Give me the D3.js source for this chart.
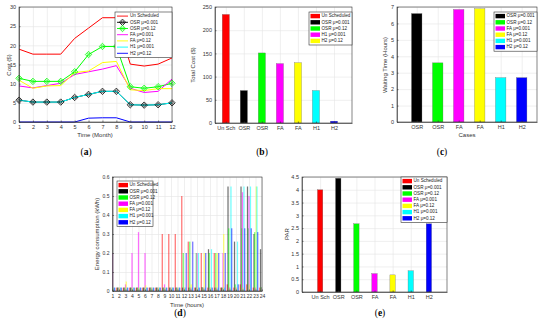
<!DOCTYPE html>
<html>
<head>
<meta charset="utf-8">
<script src="https://cdn.jsdelivr.net/npm/d3@7"></script>
<style>
  body { margin: 0; background: #fff; }
  svg { font-family: "Liberation Sans", Arial, sans-serif; }
</style>
</head>
<body>
<svg id="fig" width="550" height="330"></svg>
<script>
// Datos
// (a) costo mensual
var months = [1, 2, 3, 4, 5, 6, 7, 8, 9, 10, 11, 12];
var costUnsch = [19, 17.7, 17.7, 17.7, 21.8, 24.5, 27.2, 27.2, 15.1, 14.6, 15.1, 16.7];
var costOsr1 = [5.7, 5.2, 5.2, 5.2, 6.4, 7.2, 8.0, 8.0, 4.5, 4.4, 4.5, 5.0];
var costOsr2 = [11.4, 10.6, 10.6, 10.6, 13.1, 17.6, 19.7, 19.7, 9.2, 8.8, 9.2, 10.1];
var costFa1 = [9.4, 8.9, 9.5, 10.1, 12.4, 13.1, 13.8, 14.7, 8.8, 7.7, 8.0, 11.2];
var costFa2 = [10.9, 8.8, 9.4, 9.5, 12.9, 13.3, 15.5, 15.8, 8.4, 8.2, 8.7, 8.7];
var costH1 = [5.7, 5.2, 5.2, 5.2, 6.4, 7.2, 8.0, 8.0, 4.5, 4.4, 4.5, 5.0];
var costH2 = [0, 0, 0, 0, 0, 1.0, 1.1, 1.1, 0, 0, 0, 0];
var costTicks = [0, 5, 10, 15, 20, 25, 30];

var seriesNames = ["Un Scheduled", "OSR \u03bc=0.001", "OSR \u03bc=0.12", "FA \u03bc=0.001",
  "FA \u03bc=0.12", "H1 \u03bc=0.001", "H2 \u03bc=0.12"];

// (b) costo total
var totalCases = ["Un Sch", "OSR", "OSR", "FA", "FA", "H1", "H2"];
var totalCost = [234, 70, 151, 128, 130, 70, 4];
var totalTicks = [0, 50, 100, 150, 200, 250];
var totalNames = ["Un Scheduled", "OSR \u03bc=0.001", "OSR \u03bc=0.12", "H1 \u03bc=0.001", "H2 \u03bc=0.12"];

// (c) tiempo de espera
var waitCases = ["OSR", "OSR", "FA", "FA", "H1", "H2"];
var waitTime = [6.6, 3.6, 6.85, 6.9, 2.7, 2.7];
var waitTicks = [0, 1, 2, 3, 4, 5, 6, 7];

// (d) consumo por hora
var hours = [1, 2, 3, 4, 5, 6, 7, 8, 9, 10, 11, 12, 13, 14, 15, 16, 17, 18, 19, 20, 21, 22, 23, 24];
var energyUnsch = [0.018, 0.018, 0.018, 0.018, 0.018, 0.018, 0.018, 0.018, 0.3, 0.3, 0.3, 0.5,
  0.26, 0.018, 0.2, 0.018, 0.2, 0.018, 0.035, 0.018, 0.035, 0.035, 0.018, 0.018];
var energyOsr1 = [0.018, 0.018, 0.018, 0.018, 0.018, 0.018, 0.018, 0.018, 0.018, 0.018, 0.018, 0.018,
  0.018, 0.018, 0.02, 0.22, 0.018, 0.018, 0.55, 0.26, 0.55, 0.55, 0.3, 0.22];
var energyOsr2 = [0.018, 0.018, 0.018, 0.018, 0.018, 0.018, 0.018, 0.018, 0.018, 0.018, 0.018, 0.2,
  0.26, 0.2, 0.018, 0.2, 0.2, 0.018, 0.33, 0.035, 0.33, 0.33, 0.31, 0.02];
var energyFa1 = [0.2, 0.018, 0.035, 0.2, 0.31, 0.2, 0.018, 0.018, 0.035, 0.018, 0.018, 0.018,
  0.018, 0.2, 0.018, 0.018, 0.018, 0.2, 0.018, 0.018, 0.52, 0.5, 0.018, 0.018];
var energyFa2 = [0.018, 0.018, 0.05, 0.018, 0.018, 0.03, 0.018, 0.018, 0.018, 0.018, 0.018, 0.018,
  0.035, 0.018, 0.2, 0.018, 0.2, 0.3, 0.018, 0.018, 0.018, 0.035, 0.55, 0.018];
var energyH1 = [0.018, 0.018, 0.018, 0.018, 0.018, 0.018, 0.018, 0.018, 0.018, 0.018, 0.018, 0.018,
  0.018, 0.2, 0.018, 0.22, 0.018, 0.018, 0.55, 0.26, 0.55, 0.55, 0.55, 0.018];
var energyH2 = [0.018, 0.018, 0.018, 0.018, 0.018, 0.018, 0.018, 0.018, 0.018, 0.018, 0.018, 0.2,
  0.26, 0.018, 0.2, 0.018, 0.2, 0.2, 0.33, 0.035, 0.33, 0.33, 0.31, 0.018];
var energyTicks = [0, 0.1, 0.2, 0.3, 0.4, 0.5, 0.6];

// (e) PAR
var parCases = ["Un Sch", "OSR", "OSR", "FA", "FA", "H1", "H2"];
var parValues = [4.0, 4.45, 2.67, 0.72, 0.67, 0.83, 2.67];
var parTicks = [0, 0.5, 1, 1.5, 2, 2.5, 3, 3.5, 4, 4.5];

// colores estilo matlab
var colors = ["#ff0000", "#000000", "#00ff00", "#ff00ff", "#ffff00", "#00ffff", "#0000ff"];

var fig = d3.select("#fig");

// Ejes con grid y caja
function makeAxes(o) {
  var g = fig.append("g").attr("transform", `translate(${o.left}, ${o.top})`);
  var w = o.width, h = o.height;
  var x = o.x.range([0, w]);
  var y = o.y.range([h, 0]);
  g.append("g").attr("class", "grid").attr("transform", `translate(0, ${h})`)
    .call(d3.axisBottom(x).tickValues(o.xTicks).tickSize(-h).tickFormat(""));
  g.append("g").attr("class", "grid")
    .call(d3.axisLeft(y).tickValues(o.yTicks).tickSize(-w).tickFormat(""));
  g.selectAll(".grid .domain").remove();
  g.selectAll(".grid line").attr("stroke", "#e4e4e4").attr("stroke-width", 0.6);
  var marks = g.append("g");
  return { g: g, x: x, y: y, w: w, h: h, marks: marks, o: o };
}

function finishAxes(a) {
  var o = a.o;
  var xa = a.g.append("g").attr("transform", `translate(0, ${a.h})`)
    .call(d3.axisBottom(a.x).tickValues(o.xTicks).tickSizeInner(-1.5).tickSizeOuter(0)
      .tickPadding(3).tickFormat(o.xFormat || d3.format("")));
  var ya = a.g.append("g")
    .call(d3.axisLeft(a.y).tickValues(o.yTicks).tickSizeInner(-1.5).tickSizeOuter(0)
      .tickPadding(3).tickFormat(o.yFormat || d3.format("")));
  [xa, ya].forEach(function (ax) {
    ax.attr("font-family", null);
    ax.selectAll("text").attr("font-size", o.tickFont || 5.5).attr("fill", "#333");
    ax.selectAll("line, path").attr("stroke", "#333").attr("stroke-width", 0.6);
  });
  a.g.append("rect").attr("width", a.w).attr("height", a.h)
    .attr("fill", "none").attr("stroke", "#333").attr("stroke-width", 0.6);
}

function axisLabel(x, y, text, rotate) {
  fig.append("text")
    .attr("transform", `translate(${x}, ${y})` + (rotate ? " rotate(-90)" : ""))
    .attr("text-anchor", "middle").attr("dominant-baseline", "middle")
    .attr("font-size", 6).attr("fill", "#333").text(text);
}

function caption(x, y, letter) {
  var t = fig.append("text").attr("x", x).attr("y", y).attr("text-anchor", "middle")
    .attr("font-family", "'Liberation Serif', 'DejaVu Serif', serif").attr("font-size", 9.5).attr("fill", "#000");
  t.append("tspan").text("(");
  t.append("tspan").attr("font-weight", "bold").text(letter);
  t.append("tspan").text(")");
}

// Leyenda: type "line" o "bar"
function legend(x, y, w, names, cols, type, markers) {
  var rowH = 6.2;
  var g = fig.append("g").attr("transform", `translate(${x}, ${y})`);
  g.append("rect").attr("width", w).attr("height", names.length * rowH + 2)
    .attr("fill", "#fff").attr("stroke", "#333").attr("stroke-width", 0.6);
  names.forEach(function (n, i) {
    var cy = 1 + rowH * i + rowH / 2;
    if (type == "line") {
      g.append("line").attr("x1", 2).attr("x2", 13).attr("y1", cy).attr("y2", cy)
        .attr("stroke", cols[i]).attr("stroke-width", 0.9);
      if (markers && markers[i]) drawMarker(g, 7.5, cy, cols[i]);
      g.append("text").attr("x", 15).attr("y", cy).attr("dominant-baseline", "middle")
        .attr("font-size", 4.6).attr("fill", "#222").text(n);
    } else {
      g.append("rect").attr("x", 1.5).attr("y", cy - 2.2).attr("width", 9.5).attr("height", 4.4)
        .attr("fill", cols[i]);
      g.append("text").attr("x", 12.5).attr("y", cy).attr("dominant-baseline", "middle")
        .attr("font-size", 4.6).attr("fill", "#222").text(n);
    }
  });
}

function drawMarker(g, cx, cy, col) {
  g.append("path").attr("d", "M0,-3.2L3.2,0L0,3.2L-3.2,0Z")
    .attr("transform", `translate(${cx}, ${cy})`)
    .attr("fill", "none").attr("stroke", col).attr("stroke-width", 0.8);
  g.append("circle").attr("cx", cx).attr("cy", cy).attr("r", 1.3)
    .attr("fill", "none").attr("stroke", col).attr("stroke-width", 0.6);
}

// (a) Costo por mes
var a = makeAxes({
  left: 19, top: 7, width: 153, height: 115,
  x: d3.scaleLinear().domain([1, 12]), y: d3.scaleLinear().domain([0, 30]),
  xTicks: months, yTicks: costTicks
});
var costSeries = [costUnsch, costOsr1, costOsr2, costFa1, costFa2, costH1, costH2];
var lineGen = d3.line().x((d, i) => a.x(months[i])).y((d) => a.y(d));
costSeries.forEach(function (s, i) {
  a.marks.append("path").attr("d", lineGen(s)).attr("fill", "none")
    .attr("stroke", colors[i]).attr("stroke-width", 1);
});
[1, 2].forEach(function (k) {
  costSeries[k].forEach(function (v, i) {
    drawMarker(a.marks, a.x(months[i]), a.y(v), colors[k]);
  });
});
finishAxes(a);
legend(115, 12, 57, seriesNames, colors, "line", [false, true, true]);
axisLabel(95, 135, "Time (Month)");
axisLabel(9, 65, "Cost ($)", true);
caption(86, 155, "a");

// barras simples
function barPanel(o, cases, values, cols, bw) {
  var p = makeAxes(Object.assign(o, {
    xTicks: d3.range(1, cases.length + 1),
    xFormat: (d) => cases[d - 1]
  }));
  var step = p.x(2) - p.x(1);
  p.marks.selectAll("rect").data(values).join("rect")
    .attr("x", (d, i) => p.x(i + 1) - bw * step / 2)
    .attr("width", bw * step)
    .attr("y", (d) => p.y(d))
    .attr("height", (d) => p.h - p.y(d))
    .attr("fill", (d, i) => cols[i])
    .attr("stroke", "#666").attr("stroke-width", 0.3);
  finishAxes(p);
  return p;
}

// (b) Costo total
barPanel({
  left: 215, top: 7, width: 137, height: 116,
  x: d3.scaleLinear().domain([0.4, 8]), y: d3.scaleLinear().domain([0, 250]),
  yTicks: totalTicks
}, totalCases, totalCost, colors, 0.4);
legend(309, 12, 43, totalNames, colors.slice(0, 5), "bar");
axisLabel(193, 65, "Total Cost ($)", true);
caption(262, 155, "b");

// (c) Tiempo de espera
barPanel({
  left: 397, top: 7, width: 140, height: 115,
  x: d3.scaleLinear().domain([0.06, 6.73]), y: d3.scaleLinear().domain([0, 7]),
  yTicks: waitTicks
}, waitCases, waitTime, colors.slice(1), 0.5);
legend(494, 12, 43, seriesNames.slice(1), colors.slice(1), "bar");
axisLabel(467, 135, "Cases");
axisLabel(385, 65, "Waiting Time (Hours)", true);
caption(442, 155, "c");

// (d) Consumo por hora, barras agrupadas
var d = makeAxes({
  left: 112.5, top: 177, width: 149.5, height: 114,
  x: d3.scaleLinear().domain([1, 24]), y: d3.scaleLinear().domain([0, 0.6]),
  xTicks: hours, yTicks: energyTicks, tickFont: 5
});
d.g.append("clipPath").attr("id", "clipD").append("rect").attr("width", d.w).attr("height", d.h);
d.marks.attr("clip-path", "url(#clipD)");
var energySeries = [energyUnsch, energyOsr1, energyOsr2, energyFa1, energyFa2, energyH1, energyH2];
var groupW = 0.8, nb = energySeries.length;
var xb = d3.scaleBand().domain(d3.range(nb)).range([-groupW / 2, groupW / 2]);
energySeries.forEach(function (s, k) {
  d.marks.append("g").selectAll("rect").data(s).join("rect")
    .attr("x", (v, i) => d.x(hours[i] + xb(k)) - 0.25)
    .attr("width", d.x(1 + xb.bandwidth()) - d.x(1) + 0.5)
    .attr("y", (v) => d.y(v))
    .attr("height", (v) => d.h - d.y(v))
    .attr("fill", colors[k]).attr("fill-opacity", 0.55);
});
finishAxes(d);
legend(117, 181, 36, seriesNames, colors, "bar");
axisLabel(187, 305, "Time (hours)");
axisLabel(97, 234, "Energy consumption (kWh)", true);
caption(180, 316, "d");

// (e) PAR
barPanel({
  left: 302, top: 177, width: 145, height: 115,
  x: d3.scaleLinear().domain([0, 8]), y: d3.scaleLinear().domain([0, 4.5]),
  yTicks: parTicks
}, parCases, parValues, colors, 0.3);
legend(401, 177, 46, seriesNames, colors, "bar");
axisLabel(287, 234, "PAR", true);
caption(380, 316, "e");
</script>
</body>
</html>
